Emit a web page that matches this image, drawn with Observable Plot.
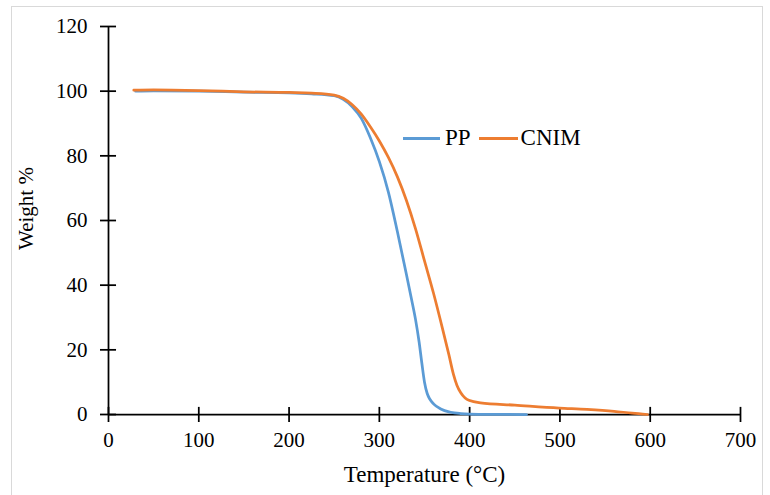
<!DOCTYPE html>
<html>
<head>
<meta charset="utf-8">
<script src="https://cdn.jsdelivr.net/npm/d3@7"></script>
<script src="https://cdn.jsdelivr.net/npm/@observablehq/plot@0.6"></script>
<style>
  body { margin: 0; background: #fff; }
  #wrap { position: relative; width: 770px; height: 495px; font-family: "Liberation Serif", "Times New Roman", serif; }
  #wrap svg { position: absolute; left: 0; top: 0; font-family: "Liberation Serif", "Times New Roman", serif !important; }
  #wrap svg text { font-family: "Liberation Serif", "Times New Roman", serif !important; }
  #border { position: absolute; left: 11px; top: 6px; width: 752px; height: 489px; border: 1.5px solid #d9d9d9; border-bottom: none; box-sizing: border-box; pointer-events: none; }
  .legend { position: absolute; left: 403px; top: 126px; height: 24px; display: flex; align-items: center; font-size: 23px; line-height: 24px; color: #000; }
  .legend .sw { display: inline-block; height: 3px; }
</style>
</head>
<body>
<div id="wrap">
  <div id="border"></div>
</div>
<script>
// ---- data ----
const seriesNames = ["PP", "CNIM"];
const seriesColors = ["#5B9BD5", "#ED7D31"];

const ppTemp   = [30, 50, 100, 150, 200, 225, 250, 260, 270, 280, 290, 300, 310, 320, 330, 335, 340, 344, 347, 350, 353, 356, 360, 368, 379, 390, 400, 430, 463];
const ppWeight = [100.0, 100.1, 100.0, 99.7, 99.5, 99.2, 98.6, 97.5, 95.2, 91.6, 85.6, 78.2, 68.8, 56.5, 43.3, 36.5, 29.5, 22.5, 16.0, 10.0, 6.5, 4.7, 3.3, 1.7, 0.7, 0.3, 0.15, 0.05, 0];

const cnimTemp   = [28, 50, 100, 150, 200, 225, 250, 260, 270, 280, 290, 300, 310, 320, 330, 340, 350, 360, 370, 377, 382, 386, 390, 395, 400, 412, 450, 499, 530, 560, 580, 597];
const cnimWeight = [100.3, 100.4, 100.2, 99.8, 99.6, 99.4, 98.8, 97.8, 95.8, 92.9, 89.0, 84.6, 79.5, 73.5, 66.2, 57.5, 47.5, 37.5, 26.5, 18.5, 12.5, 9.0, 6.8, 5.1, 4.3, 3.6, 2.9, 2.0, 1.6, 1.0, 0.4, 0];

const xTicks = [0, 100, 200, 300, 400, 500, 600, 700];
const yTicks = [0, 20, 40, 60, 80, 100, 120];
const xLabel = "Temperature (°C)";
const yLabel = "Weight %";

// ---- build table ----
const pp = ppTemp.map((t, i) => ({series: seriesNames[0], t, w: ppWeight[i]}));
const cnim = cnimTemp.map((t, i) => ({series: seriesNames[1], t, w: cnimWeight[i]}));

const font = "'Liberation Serif', 'Times New Roman', serif";
const axisStyle = {stroke: "#000", strokeWidth: 1.75};

const chart = Plot.plot({
  width: 770,
  height: 495,
  marginLeft: 108,
  marginRight: 30,
  marginTop: 26,
  marginBottom: 81,
  style: {fontFamily: font, fontSize: "21px", color: "#000", background: "transparent", overflow: "visible"},
  x: {domain: [0, 700]},
  y: {domain: [0, 120]},
  color: {domain: seriesNames, range: seriesColors},
  marks: [
    Plot.axisX(xTicks, {tickSize: 8, tickPadding: 10, label: null, strokeWidth: 1.75, fill: "#000", fontFamily: font, fontSize: 21}),
    Plot.axisY(yTicks, {tickSize: 8, tickPadding: 13, label: null, strokeWidth: 1.75, fill: "#000", fontFamily: font, fontSize: 21}),
    Plot.ruleX(xTicks, {x: d => d, y1: 0, y2: 2.2, ...axisStyle}),
    Plot.ruleY(yTicks, {y: d => d, x1: 0, x2: 8.9, ...axisStyle}),
    Plot.ruleY([0], axisStyle),
    Plot.ruleX([0], axisStyle),
    Plot.line(pp, {x: "t", y: "w", stroke: "series", strokeWidth: 2.75, curve: "monotone-x"}),
    Plot.line(cnim, {x: "t", y: "w", stroke: "series", strokeWidth: 2.75, curve: "monotone-x"}),
    Plot.text([xLabel], {frameAnchor: "bottom", textAnchor: "middle", dy: 67, fontSize: 23, fill: "#000", fontFamily: font}),
    Plot.text([yLabel], {frameAnchor: "left", textAnchor: "middle", lineAnchor: "middle", rotate: -90, dx: -82, dy: -12, fontSize: 21, fill: "#000", fontFamily: font})
  ]
});

const wrap = document.getElementById("wrap");
wrap.insertBefore(chart, wrap.firstChild);

// legend (overlay inside the plot area)
const legend = document.createElement("div");
legend.className = "legend";
seriesNames.forEach((name, i) => {
  const sw = document.createElement("span");
  sw.className = "sw";
  sw.style.background = seriesColors[i];
  sw.style.width = i === 0 ? "37px" : "39px";
  sw.style.marginLeft = i === 0 ? "0px" : "8px";
  const tx = document.createElement("span");
  tx.textContent = name;
  tx.style.marginLeft = i === 0 ? "5px" : "3px";
  legend.appendChild(sw);
  legend.appendChild(tx);
});
wrap.appendChild(legend);
</script>
</body>
</html>
